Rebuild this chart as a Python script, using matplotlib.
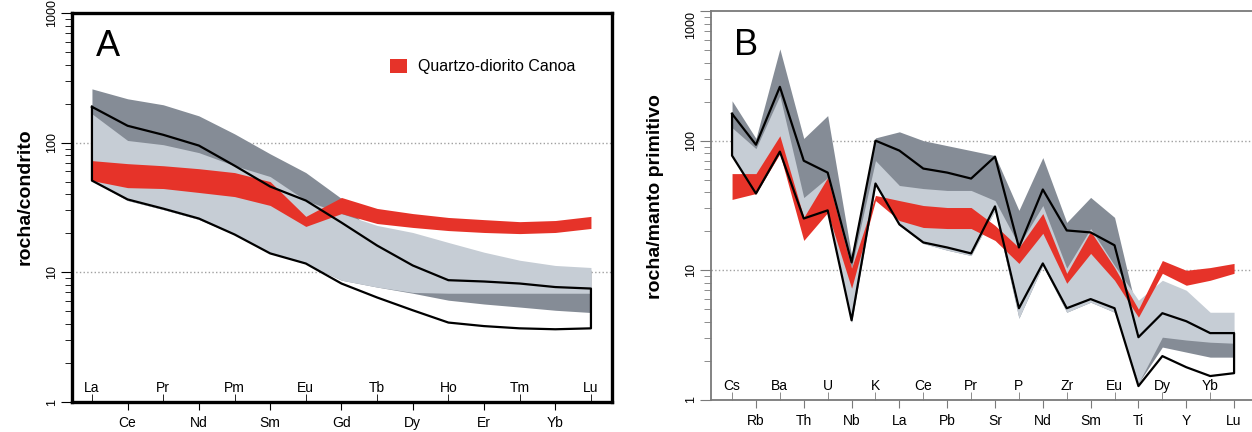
import matplotlib
matplotlib.use('Agg')
import matplotlib.pyplot as plt
from matplotlib.patches import Patch
from matplotlib.ticker import FixedLocator, LogLocator, NullFormatter
import numpy as np

plt.rcParams['font.family'] = ['Liberation Sans', 'DejaVu Sans']

# ---- painel A: ETR normalizados ao condrito ----
ree = ['La', 'Ce', 'Pr', 'Nd', 'Pm', 'Sm', 'Eu', 'Gd', 'Tb', 'Dy', 'Ho', 'Er', 'Tm', 'Yb', 'Lu']
a_dark_top = [260, 218, 196, 161, 117, 82, 58.8, 37.1, 17.6, 16.1, 13.5, 12.4, 11.3, 10.7, 10.4]
a_dark_bot = [51, 35.8, 30.5, 25.6, 19.6, 14, 11.7, 8.7, 7.7, 6.9, 6.1, 5.7, 5.4, 5.1, 4.9]
a_light_top = [167, 104, 96.5, 83.8, 66.5, 54.8, 35.8, 28.4, 23, 20.3, 17, 14.3, 12.4, 11.3, 10.9]
a_light_bot = [51, 35.8, 30.5, 25.6, 19.6, 14, 11.7, 8.7, 7.7, 7.0, 6.9, 6.9, 6.9, 6.9, 6.9]
a_line_top = [189, 135, 115, 95, 66.5, 45.9, 35.8, 24.2, 16.1, 11.3, 8.7, 8.5, 8.2, 7.7, 7.5]
a_line_bot = [51, 36.5, 31, 26, 19.6, 14, 11.7, 8.2, 6.4, 5.1, 4.1, 3.85, 3.7, 3.64, 3.7]
a_red_top = [72.7, 68.9, 66.4, 63, 58.8, 50.1, 27, 37.8, 31.1, 28.4, 26.5, 25.5, 24.6, 25.1, 27]
a_red_bot = [51, 45, 44.3, 41.3, 38.4, 32.8, 22.6, 28.4, 23.8, 22.2, 21, 20.3, 19.9, 20.3, 21.8]

# ---- painel B: multielementos normalizados ao manto primitivo ----
spid = ['Cs', 'Rb', 'Ba', 'Th', 'U', 'Nb', 'K', 'La', 'Ce', 'Pb', 'Pr', 'Sr', 'P', 'Nd', 'Zr',
        'Sm', 'Eu', 'Ti', 'Dy', 'Y', 'Yb', 'Lu']
b_dark_top = [203, 104, 510, 104, 156, 13.0, 105, 117, 100, 91.5, 83.8, 76.7, 29, 74, 23.4,
              36.5, 25.6, 4.27, 5.88, 4.92, 3.78, 3.45]
b_dark_bot = [76.7, 39.1, 80.9, 23.4, 27.9, 3.98, 45.1, 22.2, 16.1, 14.3, 13.0, 29, 4.27, 10.9, 4.75,
              5.68, 4.75, 1.35, 2.56, 2.34, 2.14, 2.14]
b_light_top = [126, 86.8, 222, 36.4, 51.9, 10.5, 70.2, 45.1, 42.7, 41.3, 41.3, 34.5, 15.6, 31.6, 10.4,
               21, 10.9, 5.88, 8.38, 7.02, 4.75, 4.75]
b_light_bot = [76.7, 39.1, 80.9, 23.4, 27.9, 3.98, 45.1, 22.2, 16.1, 14.3, 13.0, 29, 4.27, 10.9, 4.75,
               5.68, 4.75, 1.35, 3.05, 2.9, 2.79, 2.74]
b_line_top = [161, 93, 260, 70, 56.7, 11.5, 100, 83.8, 60.9, 56.7, 51, 75.3, 15, 42, 20.3,
              19.6, 15.6, 3.05, 4.67, 4.05, 3.28, 3.28]
b_line_bot = [76.7, 39.1, 82.3, 25.1, 29, 4.12, 46.7, 22.6, 16.4, 15, 13.5, 31.1, 5.1, 11.3, 5.1,
              6.0, 5.1, 1.28, 2.18, 1.79, 1.53, 1.61]
b_red_top = [55.7, 55.7, 109, 25.6, 51.9, 10.4, 37.8, 34.5, 31.6, 30.5, 30.5, 22.2, 15, 27.4, 9.48,
             20, 10.5, 5.01, 11.9, 10, 10.5, 11.3]
b_red_bot = [35.2, 39.1, 79.4, 17, 27.9, 7.27, 34.5, 24.2, 21.4, 21, 21, 17, 11.3, 19.3, 7.94,
             13.5, 8.38, 4.35, 9.48, 7.67, 8.38, 9.48]

DARK = '#858c96'
LIGHT = '#c6cdd5'
RED = '#e63329'


def draw_fields(ax, names, dtop, dbot, ltop, lbot, rtop, rbot, ltop_line, lbot_line):
    x = np.arange(len(names))
    ax.fill_between(x, dbot, dtop, color=DARK, lw=0, zorder=1)
    ax.fill_between(x, lbot, ltop, color=LIGHT, lw=0, zorder=2)
    ax.fill_between(x, rbot, rtop, color=RED, lw=0, zorder=3)
    xs = np.r_[x, x[::-1], x[0]]
    ys = np.r_[ltop_line, lbot_line[::-1], ltop_line[0]]
    ax.plot(xs, ys, color='black', lw=1.6, zorder=4)


def style_axis(ax, names, xlim, spine_color, pad_in):
    x = np.arange(len(names))
    ax.set_yscale('log')
    ax.set_ylim(1, 1000)
    ax.set_xlim(*xlim)
    ax.yaxis.set_major_locator(FixedLocator([1, 10, 100, 1000]))
    ax.set_yticklabels(['1', '10', '100', '1000'])
    ax.yaxis.set_minor_locator(LogLocator(base=10, subs=np.arange(2, 10)))
    ax.yaxis.set_minor_formatter(NullFormatter())
    for lab in ax.get_yticklabels():
        lab.set_rotation(90)
        lab.set_va('center')
    ax.tick_params(axis='y', which='major', length=8, labelsize=9, pad=2, color=spine_color)
    ax.tick_params(axis='y', which='minor', length=5, color=spine_color)
    # rotulos alternados: linha de baixo fora, linha de cima dentro
    ax.set_xticks(x[1::2])
    ax.set_xticklabels(names[1::2])
    ax.set_xticks(x[0::2], minor=True)
    ax.set_xticklabels(names[0::2], minor=True)
    ax.tick_params(axis='x', which='major', direction='out', length=6, labelsize=10, pad=4,
                   color=spine_color)
    ax.tick_params(axis='x', which='minor', direction='in', length=6, labelsize=10, pad=pad_in,
                   color=spine_color)
    for v in (10, 100):
        ax.axhline(v, color='#a0a0a0', lw=1, ls=':', zorder=0)


fig = plt.figure(figsize=(12.52, 4.32), dpi=100)

axA = fig.add_axes([0.0575, 0.0694, 0.4313, 0.9005])
draw_fields(axA, ree, a_dark_top, a_dark_bot, a_light_top, a_light_bot,
            a_red_top, a_red_bot, a_line_top, a_line_bot)
style_axis(axA, ree, (-0.56, 14.59), 'black', -15)
for s in axA.spines.values():
    s.set_linewidth(2.4)
axA.set_ylabel('rocha/condrito', fontsize=14, fontweight='bold', va='center')
axA.yaxis.set_label_coords(-0.087, 0.527)
axA.text(0.045, 0.89, 'A', transform=axA.transAxes, fontsize=26, va='baseline')
axA.legend(handles=[Patch(facecolor=RED, edgecolor='none', label='Quartzo-diorito Canoa')],
           loc='upper left', bbox_to_anchor=(0.589, 0.882), frameon=False, fontsize=11.5,
           handlelength=1.05, handleheight=0.95, handletextpad=0.7, borderpad=0,
           borderaxespad=0)

axB = fig.add_axes([0.5679, 0.0741, 0.4321, 0.9005])
draw_fields(axB, spid, b_dark_top, b_dark_bot, b_light_top, b_light_bot,
            b_red_top, b_red_bot, b_line_top, b_line_bot)
style_axis(axB, spid, (-0.88, 21.75), '#7a7a7a', -15)
axB.get_yticklabels()[-1].set_va('top')
axB.spines['right'].set_visible(False)
for k in ('left', 'bottom', 'top'):
    axB.spines[k].set_color('#7a7a7a')
    axB.spines[k].set_linewidth(1.3)
axB.set_ylabel('rocha/manto primitivo', fontsize=14, fontweight='bold', va='center')
axB.yaxis.set_label_coords(-0.1035, 0.522)
axB.text(0.0425, 0.887, 'B', transform=axB.transAxes, fontsize=26, va='baseline')

fig.savefig('out.png', dpi=100)
